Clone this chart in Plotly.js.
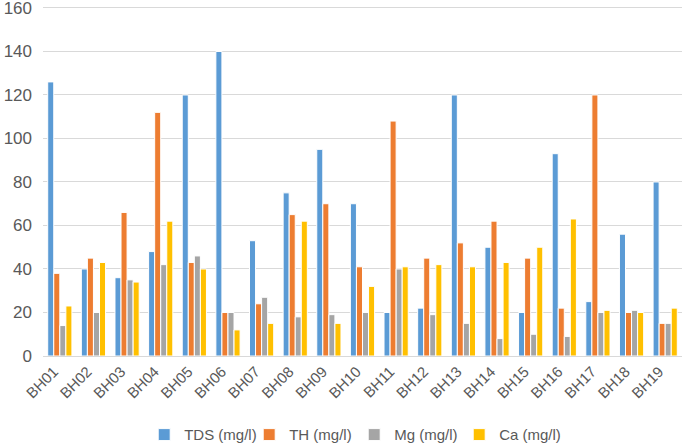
<!DOCTYPE html>
<html><head><meta charset="utf-8">
<script src="https://cdn.plot.ly/plotly-3.0.1.min.js"></script>
<style>html,body{margin:0;padding:0;background:#fff}#chart{width:685px;height:446px}</style>
</head><body><div id="chart"></div>
<script>
const categories = ["BH01","BH02","BH03","BH04","BH05","BH06","BH07","BH08","BH09","BH10","BH11","BH12","BH13","BH14","BH15","BH16","BH17","BH18","BH19"];
const tds = [126,40,36,48,120,140,53,75,95,70,20,22,120,50,20,93,25,56,80];
const th  = [38,45,66,112,43,20,24,65,70,41,108,45,52,62,45,22,120,20,15];
const mg  = [14,20,35,42,46,20,27,18,19,20,40,19,15,8,10,9,20,21,15];
const ca  = [23,43,34,62,40,12,15,62,15,32,41,42,41,43,50,63,21,20,22];
const names = ["TDS (mg/l)","TH (mg/l)","Mg (mg/l)","Ca (mg/l)"];
const colors = ["#5B9BD5","#ED7D31","#A5A5A5","#FFC000"];
const series = [tds, th, mg, ca];
const traces = series.map((s,i)=>({type:"bar",x:categories,y:s,name:names[i],
  marker:{color:colors[i],line:{color:"#ffffff",width:1}}}));
const layout = {
  width:685,height:446,margin:{l:43,r:3,t:6,b:90,autoexpand:false},
  paper_bgcolor:"#fff",plot_bgcolor:"#fff",
  font:{family:"Liberation Sans, Arial, sans-serif",color:"#595959",size:16},
  barmode:"group",bargap:0.28,bargroupgap:0,
  xaxis:{type:"category",tickangle:-45,tickfont:{size:15,color:"#595959"},showgrid:false,
    showline:true,linecolor:"#d9d9d9",linewidth:1,ticks:"",automargin:false,ticklabelshift:-6},
  yaxis:{range:[0,160.9],tickvals:[0,20,40,60,80,100,120,140,160],showgrid:true,gridcolor:"#d9d9d9",gridwidth:1,
    zeroline:false,tickfont:{size:17,color:"#595959"},ticks:"",ticklabelstandoff:10,
    ticklabeloverflow:"allow",automargin:false},
  legend:{orientation:"h",x:0.487,xanchor:"center",yref:"container",y:0.025,yanchor:"middle",
    font:{size:15,color:"#595959"},traceorder:"normal",itemwidth:30,entrywidth:60},
  showlegend:true
};
Plotly.newPlot("chart",traces,layout,{displayModeBar:false,staticPlot:true});
</script></body></html>
